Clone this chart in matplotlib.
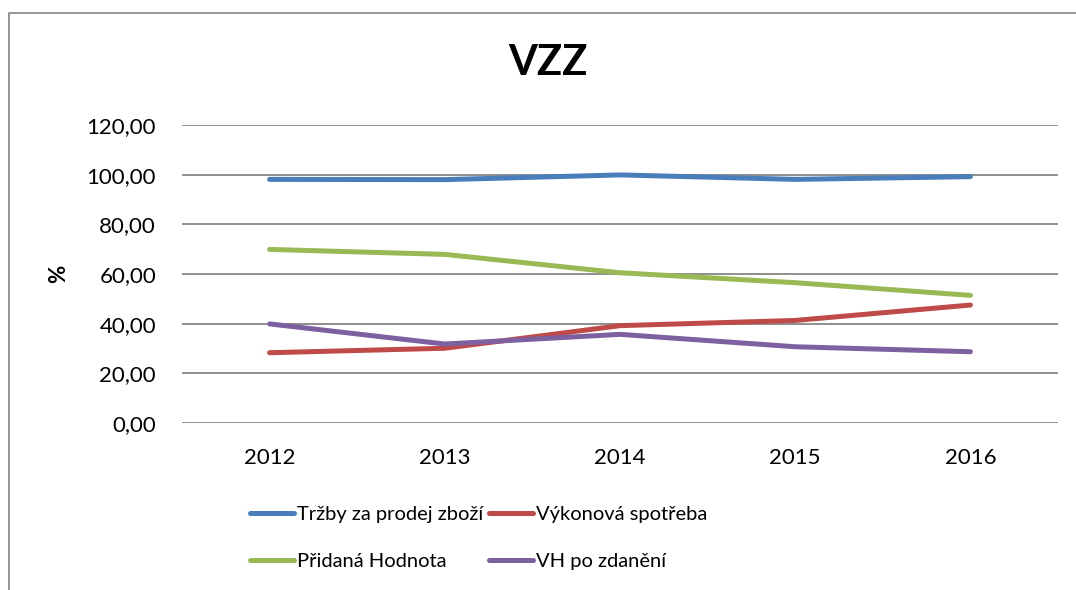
import matplotlib
matplotlib.use("Agg")
import matplotlib.pyplot as plt
from matplotlib.lines import Line2D

years = ["2012", "2013", "2014", "2015", "2016"]
trzby = [98.1, 98.0, 99.9, 98.1, 99.2]
vykonova = [28.3, 30.1, 39.2, 41.3, 47.5]
pridana = [69.9, 67.9, 60.5, 56.5, 51.4]
vh = [39.9, 31.8, 35.7, 30.7, 28.7]
yticks = [0, 20, 40, 60, 80, 100, 120]
ytick_labels = ["0,00", "20,00", "40,00", "60,00", "80,00", "100,00", "120,00"]

series = [
    ("Tržby za prodej zboží", trzby, "#4A7EBB"),
    ("Výkonová spotřeba", vykonova, "#BE4B48"),
    ("Přidaná Hodnota", pridana, "#98B954"),
    ("VH po zdanění", vh, "#7D60A0"),
]

plt.rcParams['font.family'] = ['Lato', 'DejaVu Sans']

W, H = 1076, 590
fig = plt.figure(figsize=(W / 100, H / 100), dpi=100)
ax = fig.add_axes([182 / W, (H - 423) / H, (1058 - 182) / W, (423 - 125) / H])

x = list(range(len(years)))
for name, vals, col in series:
    ax.plot(x, vals, color=col, lw=3.6, solid_capstyle='round',
            solid_joinstyle='round', label=name, zorder=3)

ax.set_xlim(-0.5, len(years) - 0.5)
ax.set_ylim(0, 120)
ax.set_yticks(yticks)
ax.set_yticklabels(ytick_labels)
ax.set_xticks(x)
ax.set_xticklabels(years)
ax.tick_params(axis='both', length=0, labelsize=16, colors='black')
ax.tick_params(axis='y', pad=18.7)
ax.tick_params(axis='x', pad=18)
ax.grid(axis='y', color='#868686', lw=1.3, zorder=0)
ax.set_axisbelow(True)
for s in ax.spines.values():
    s.set_visible(False)

fig.text(548 / W, 1 - 63 / H, "VZZ", ha='center', va='center',
         fontsize=30, fontweight='bold')
fig.text(59 / W, 1 - 274 / H, "%", ha='center', va='center',
         fontsize=16, fontweight='bold', rotation=90)

# outer frame (left and top)
fig.add_artist(Line2D([8.5 / W, 8.5 / W, 1.0], [0, 1 - 13 / H, 1 - 13 / H],
                      transform=fig.transFigure, color='#8C8C8C', lw=1.3))

handles, labels = ax.get_legend_handles_labels()
order = [0, 2, 1, 3]  # row-wise fill: row1 = series 0,1 ; row2 = series 2,3
leg = fig.legend([handles[i] for i in order], [labels[i] for i in order],
                 ncol=2, loc='center left',
                 bbox_to_anchor=(250 / W, 1 - 538 / H), frameon=False,
                 fontsize=14.5, handlelength=2.2, handletextpad=0.12,
                 columnspacing=0.3, labelspacing=1.45, borderpad=0,
                 borderaxespad=0)

fig.savefig("out.png", dpi=100, facecolor='white')
